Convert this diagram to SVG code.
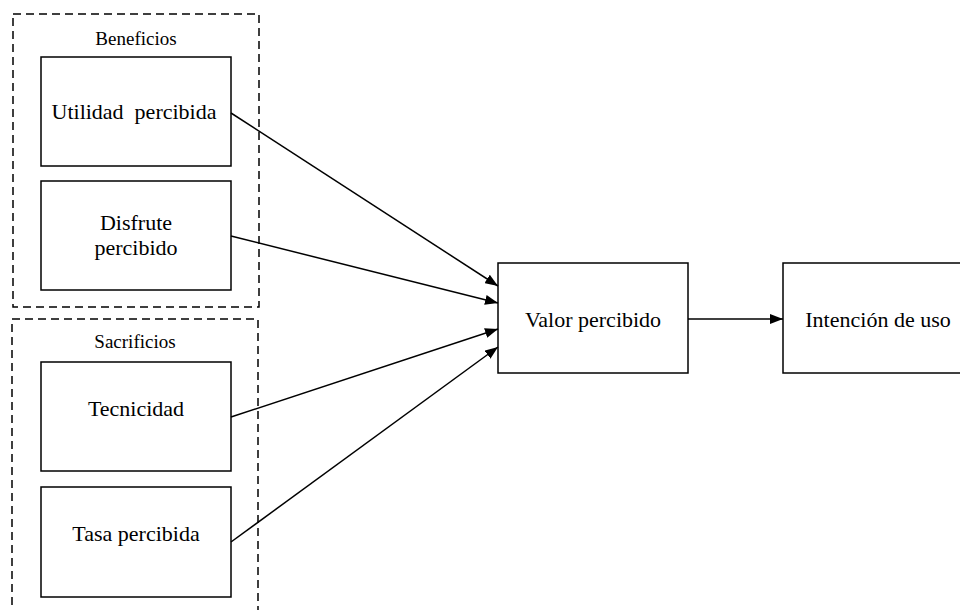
<svg xmlns="http://www.w3.org/2000/svg" width="960" height="610" viewBox="0 0 960 610">
<defs>
<style>
.grp{fill:none;stroke:#000;stroke-width:1.5;stroke-dasharray:8,5}
.box{fill:#fff;stroke:#000;stroke-width:1.5}
.t{font-family:'Liberation Serif','Times New Roman',serif;font-size:22px;fill:#000;text-anchor:middle}
.s{font-family:'Liberation Serif','Times New Roman',serif;font-size:19px;fill:#000;text-anchor:middle}
.edge{fill:none;stroke:#000;stroke-width:1.5}
</style>
<marker id="ah" markerWidth="13" markerHeight="10" refX="13" refY="5" orient="auto" markerUnits="userSpaceOnUse">
<path d="M0,0 L13,5 L0,10 Z" fill="#000"/>
</marker>
</defs>
<rect width="960" height="610" fill="#fff"/>
<g id="beneficios">
<rect class="grp" x="13" y="14" width="246" height="293"/>
<text class="s" x="136" y="45">Beneficios</text>
</g>
<g id="sacrificios">
<rect class="grp" x="12" y="319" width="246" height="300"/>
<text class="s" x="135" y="348">Sacrificios</text>
</g>
<g id="utilidad">
<rect class="box" x="41" y="57" width="190" height="109"/>
<text class="t" x="134" y="119" xml:space="preserve">Utilidad  percibida</text>
</g>
<g id="disfrute">
<rect class="box" x="41" y="181" width="190" height="109"/>
<text class="t" x="136" y="230">Disfrute</text>
<text class="t" x="136" y="255">percibido</text>
</g>
<g id="tecnicidad">
<rect class="box" x="41" y="362" width="190" height="109"/>
<text class="t" x="136" y="416">Tecnicidad</text>
</g>
<g id="tasa">
<rect class="box" x="41" y="487" width="190" height="110"/>
<text class="t" x="136" y="541">Tasa percibida</text>
</g>
<g id="valor">
<rect class="box" x="498" y="263" width="190" height="110"/>
<text class="t" x="593" y="327">Valor percibido</text>
</g>
<g id="intencion">
<rect class="box" x="783" y="263" width="190" height="110"/>
<text class="t" x="878" y="327">Intención de uso</text>
</g>
<g id="connectors">
<line class="edge" x1="231" y1="113" x2="498" y2="286" marker-end="url(#ah)"/>
<line class="edge" x1="231" y1="236" x2="498" y2="303" marker-end="url(#ah)"/>
<line class="edge" x1="231" y1="417" x2="498" y2="329" marker-end="url(#ah)"/>
<line class="edge" x1="231" y1="542" x2="498" y2="347" marker-end="url(#ah)"/>
<line class="edge" x1="688" y1="319" x2="783" y2="319" marker-end="url(#ah)"/>
</g>
</svg>
